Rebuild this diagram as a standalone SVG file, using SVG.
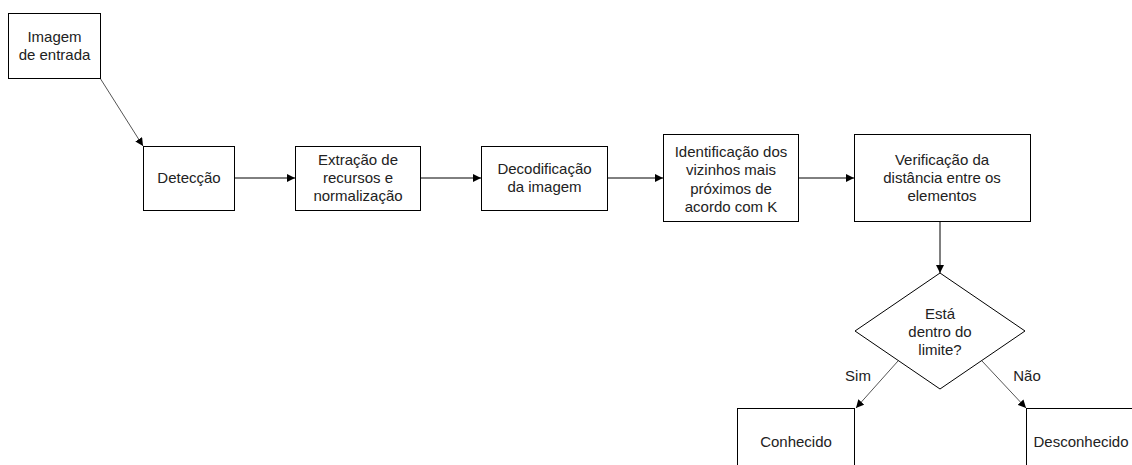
<svg xmlns="http://www.w3.org/2000/svg" width="1132" height="465" viewBox="0 0 1132 465">
<defs>
<marker id="ah" viewBox="0 0 10 10" refX="10" refY="5" markerWidth="8" markerHeight="8" markerUnits="userSpaceOnUse" orient="auto">
<path d="M0,0 L10,5 L0,10 Z" fill="#000"/>
</marker>
<style>
.box{fill:#fff;stroke:#000;stroke-width:1}
.t{font-family:"Liberation Sans",Arial,sans-serif;font-size:15px;fill:#222;text-anchor:middle}
.c{fill:none;stroke:#000;stroke-width:1;marker-end:url(#ah)}
.cd{fill:none;stroke:#555;stroke-width:1;marker-end:url(#ah)}
</style>
</defs>
<rect width="1132" height="465" fill="#fff"/>
<g id="connectors">
<line class="cd" x1="100" y1="78" x2="143" y2="146"/>
<line class="c" x1="234" y1="178" x2="295" y2="178"/>
<line class="c" x1="420" y1="178" x2="481" y2="178"/>
<line class="c" x1="607" y1="178" x2="663" y2="178"/>
<line class="c" x1="798" y1="178" x2="854" y2="178"/>
<line class="c" x1="940" y1="221" x2="940" y2="273"/>
<line class="cd" x1="898" y1="361" x2="856" y2="408"/>
<line class="cd" x1="982" y1="361" x2="1026" y2="408"/>
<text class="t" x="858" y="381">Sim</text>
<text class="t" x="1027" y="381">Não</text>
</g>
<g id="n-entrada">
<rect class="box" x="8.5" y="13.5" width="92" height="65"/>
<text class="t" x="54.5" y="42">Imagem</text>
<text class="t" x="54.5" y="60">de entrada</text>
</g>
<g id="n-deteccao">
<rect class="box" x="143.5" y="146.5" width="91" height="64"/>
<text class="t" x="189" y="183">Detecção</text>
</g>
<g id="n-extracao">
<rect class="box" x="295.5" y="146.5" width="125" height="64"/>
<text class="t" x="358" y="165">Extração de</text>
<text class="t" x="358" y="183">recursos e</text>
<text class="t" x="358" y="201">normalização</text>
</g>
<g id="n-decodificacao">
<rect class="box" x="481.5" y="146.5" width="126" height="64"/>
<text class="t" x="544.5" y="174">Decodificação</text>
<text class="t" x="544.5" y="192">da imagem</text>
</g>
<g id="n-identificacao">
<rect class="box" x="663.5" y="134.5" width="135" height="87"/>
<text class="t" x="731" y="157">Identificação dos</text>
<text class="t" x="731" y="175">vizinhos mais</text>
<text class="t" x="731" y="194">próximos de</text>
<text class="t" x="731" y="212">acordo com K</text>
</g>
<g id="n-verificacao">
<rect class="box" x="854.5" y="134.5" width="176" height="87"/>
<text class="t" x="942" y="165">Verificação da</text>
<text class="t" x="942" y="183">distância entre os</text>
<text class="t" x="942" y="201">elementos</text>
</g>
<g id="n-decisao">
<polygon class="box" points="940,273 1025,331 940,389 855,331"/>
<text class="t" x="940" y="319">Está</text>
<text class="t" x="940" y="337">dentro do</text>
<text class="t" x="940" y="355">limite?</text>
</g>
<g id="n-conhecido">
<rect class="box" x="737.5" y="408.5" width="117" height="80"/>
<text class="t" x="796" y="447">Conhecido</text>
</g>
<g id="n-desconhecido">
<rect class="box" x="1026.5" y="408.5" width="117" height="80"/>
<text class="t" x="1081" y="447">Desconhecido</text>
</g>
</svg>
